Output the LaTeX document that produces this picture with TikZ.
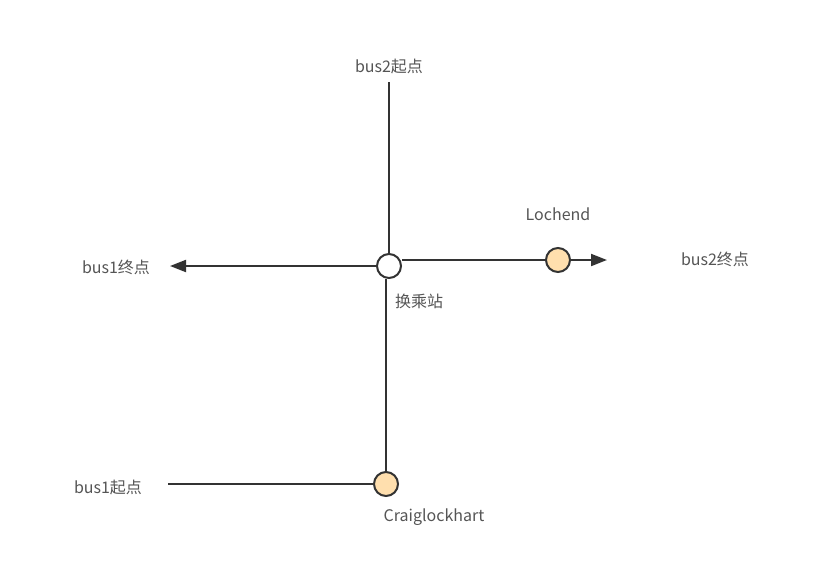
\documentclass[tikz,border=0pt]{standalone}
\usepackage{fontspec}
\setmainfont{Noto Sans CJK SC}
\usetikzlibrary{arrows.meta}
\definecolor{linegray}{HTML}{333333}
\definecolor{textgray}{HTML}{555555}
\definecolor{stopfill}{HTML}{FFDFAE}

\begin{document}
\begin{tikzpicture}[x=0.75pt,y=-0.75pt,>={Triangle[length=12pt,width=9pt]},
  line width=1.5pt,linegray,
  stop node/.style={circle,draw=linegray,fill=stopfill,line width=1.5pt,
  minimum size=18pt,inner sep=0pt},
  hub node/.style={stop node,fill=white},
  label node/.style={text=textgray,font=\fontsize{12}{14}\selectfont,inner sep=0pt}]
  \useasboundingbox (0,0) rectangle (829,565);

  % stations
  \node[hub node] (hub) at (389,266) {};
  \node[stop node] (loch) at (558,260) {};
  \node[stop node] (craig) at (386,484) {};

  % free ends of the lines
  \coordinate (b2start) at (389,82);
  \coordinate (b1end) at (170,266);
  \coordinate (b2end) at (607,260);
  \coordinate (b1start) at (168,484);

  % labels
  \node[label node] (b2startlbl) at (389,66) {bus2起点};
  \node[label node] (b1endlbl) at (116,267) {bus1终点};
  \node[label node] (b2endlbl) at (715,259) {bus2终点};
  \node[label node] (b1startlbl) at (108,487) {bus1起点};
  \node[label node] (hublbl) at (419,301) {换乘站};
  \node[label node] (lochlbl) at (558,214) {Lochend};
  \node[label node] (craiglbl) at (434,517) {Craiglockhart};

  \path[draw]
    (b2start) -- (hub)
    (hub.south -| craig) -- (craig)
    (b1start) -- (craig)
    (hub.east |- loch) -- (loch);
  \draw[->] (hub) -- (b1end);
  \draw[->] (loch) -- (b2end);
\end{tikzpicture}
\end{document}
